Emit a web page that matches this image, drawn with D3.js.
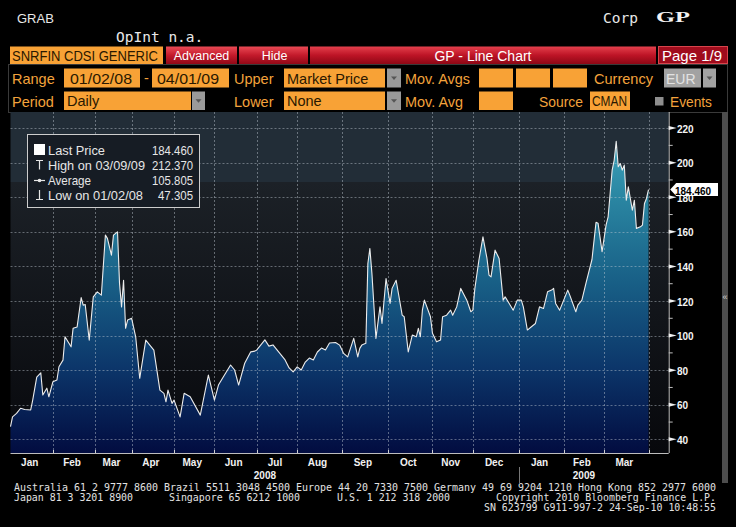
<!DOCTYPE html>
<html><head><meta charset="utf-8">
<script src="https://cdn.jsdelivr.net/npm/d3@7"></script>
<style>html,body{margin:0;padding:0;background:#000;}svg{display:block}</style>
</head><body>
<svg id="c" width="736" height="527"></svg>
<script>
// ---------------- DATA ----------------
const monthLabels = ["Jan","Feb","Mar","Apr","May","Jun","Jul","Aug","Sep","Oct","Nov","Dec","Jan","Feb","Mar"];
const monthDays   = [21,21,18,21,20,21,20,22,23,22,20,23,22,20,22]; // trading days per month shown
const yearLabels  = ["2008","2009"];
const yearStartMonth = [0,12];
const yTicks = [40,60,80,100,120,140,160,180,200,220];
const yMinorTicks = [50,70,90,110,130,150,170,190,210];

// trading-day index (0 = 01/02/08) and CDS price
const tradingDay = [0,1,3,5,7,10,11,13,15,16,18,19,21,23,24,26,27,30,31,33,35,36,37,39,41,43,45,47,48,50,51,53,54,55,56,57,58,60,62,64,67,69,71,74,76,77,78,80,81,84,86,89,94,98,101,103,105,109,111,113,116,119,
 121,122,124,126,128,130,132,134,136,138,140,142,144,146,148,150,152,154,156,158,161,
 163,165,167,170,172,173,174,176,177,178,179,181,183,184,186,188,189,191,194,195,197,199,201,202,203,204,205,208,209,211,213,214,216,218,219,221,223,226,228,229,230,232,234,236,237,238,240,242,244,245,247,249,251,253,254,256,258,260,262,264,266,268,269,270,272,274,276,277,280,281,283,285,288,290,291,293,295,296,298,299,300,301,302,303,304,305,306,308,309,310,312,313,314,315,316];
const price = [47.305,53,55,58,57.3,57,62.7,76,78.5,65.6,69.6,64.6,73.3,74.3,82,85.8,99.3,93.5,104.2,105,122,117.6,118,97.4,122.4,125.3,123.4,158.1,156.2,146.5,158.1,160,130.2,116.6,132,104.2,109,110,99.3,75.3,97.4,94.5,91.6,68.5,66.6,61.7,68.5,60.8,62.7,53,66.6,64.6,54,77.2,62.7,71.4,75.3,83,80.1,71.4,84,90.6,
 91,91.7,94.6,97.5,93.9,94.6,91.7,88.8,85.9,81.3,79,81.9,80.1,84.7,87,85.9,90.5,92.8,91.7,95.7,96,
 94.5,89.7,87.7,98.4,87.7,92.6,94.5,95.5,141.7,150.4,136,98.4,116.6,107,133,118.6,127.3,132,111.8,110.9,90.6,100.3,99.3,104.2,99.3,114.7,120.5,110.9,101.3,96.4,97.4,110.9,111.8,114.7,111.8,116.6,127.3,120.5,113.8,114.7,127.3,143.6,157.1,144.6,135,134,149.4,144.6,120.5,122.4,118.6,114.7,120.5,120.5,116.6,103.2,105.1,107,116.6,115.7,125.3,126.3,127.3,118.6,114.7,120.5,126.3,123.4,113.8,117.6,120.5,130.2,144,165.5,165,148.5,164,168.7,195.7,201.4,212.37,197.6,199.5,195.7,198.6,178.3,186,172.5,178.3,162,162.9,163.9,176.4,179.3,184.46];

const legendLabels = ["Last Price","High on 03/09/09","Average","Low on 01/02/08"];
const legendValues = ["184.460","212.370","105.805","47.305"];
const lastPrice = 184.460;

// ---------------- SETUP ----------------
const svg = d3.select("#c");
const FS = "'Liberation Sans', Arial, sans-serif";
const MONO = "'DejaVu Sans Mono', monospace";
const plot = {left:10.5, right:668.7, top:112, bottom:453};
const cum = d3.cumsum(monthDays);
const monthStart = [0, ...cum];
const totalDays = cum[cum.length-1];
const x = d3.scaleLinear().domain([0, totalDays + 10]).range([plot.left, plot.right]);
const y = d3.scaleLinear().domain([32.1, 229.3]).range([plot.bottom, plot.top]);
const data = tradingDay.map((d,i)=>({d, v:price[i]}));

const defs = svg.append("defs");
function vgrad(id, stops, y1, y2){
  const g = defs.append("linearGradient").attr("id",id).attr("x1",0).attr("x2",0);
  if (y1!==undefined){ g.attr("gradientUnits","userSpaceOnUse").attr("y1",y1).attr("y2",y2); }
  else { g.attr("y1",0).attr("y2",1); }
  stops.forEach(s=>g.append("stop").attr("offset",s[0]).attr("stop-color",s[1]));
}
vgrad("areaG",[[0,"#44aec4"],[0.25,"#2a86a2"],[0.5,"#185f86"],[0.75,"#0c366a"],[1,"#020c40"]], plot.top, plot.bottom);
vgrad("bgLow",[[0,"#1c2127"],[1,"#07080c"]]);
vgrad("redG",[[0,"#e4404c"],[0.5,"#bd1426"],[1,"#8e0715"]]);
vgrad("btnG",[[0,"#ea4a55"],[0.5,"#c31a2b"],[1,"#920817"]]);

function rect(x0,y0,w,h,fill,stroke){
  const r = svg.append("rect").attr("x",x0).attr("y",y0).attr("width",w).attr("height",h).attr("fill",fill);
  if (stroke) r.attr("stroke",stroke).attr("stroke-width",1);
  return r;
}
function text(x0,y0,s,o={}){
  const t = svg.append("text").attr("x",x0).attr("y",y0).text(s)
    .attr("font-family",o.family||FS).attr("font-size",o.size||14)
    .attr("fill",o.fill||"#fff").attr("font-weight",o.weight||"normal")
    .attr("text-anchor",o.anchor||"start");
  if (o.len){ t.attr("textLength",o.len).attr("lengthAdjust","spacingAndGlyphs"); }
  return t;
}
function dropdown(x0,y0,w,h,fill){
  rect(x0,y0,w,h,fill||"#9a9a9a");
  svg.append("path").attr("d",`M${x0+w/2-3},${y0+h/2-1.5}L${x0+w/2+3},${y0+h/2-1.5}L${x0+w/2},${y0+h/2+2}Z`).attr("fill","#555");
}

// ---------------- HEADER ----------------
const ORANGE = "#f8a236", OTEXT = "#f3a33c", DARK="#2a1800";
text(17,23.3,"GRAB",{size:13,fill:"#e8e8e8"});
text(116,41.5,"OpInt n.a.",{family:MONO,size:14.5,fill:"#e8e8e8"});
text(603,22.5,"Corp",{family:MONO,size:14.5,fill:"#e8e8e8"});
text(656,22,"GP",{family:"'Liberation Serif', serif",size:15,weight:"bold",fill:"#f2f2f2",len:34});

// red title row
rect(10,46.5,153,17.5,ORANGE);
text(12,60.5,"SNRFIN CDSI GENERIC",{size:14,fill:DARK,len:146});
rect(166,46.5,71,17.5,"url(#btnG)");
rect(239,46.5,69,17.5,"url(#btnG)");
rect(310,46.5,346,17.5,"url(#redG)");
text(201.5,59.5,"Advanced",{size:12.5,anchor:"middle",fill:"#fff"});
text(274.5,59.5,"Hide",{size:12.5,anchor:"middle",fill:"#fff"});
text(483,61,"GP - Line Chart",{size:14,anchor:"middle",fill:"#fff"});
rect(658.5,46.5,69,17,"#a00c1c","#d8444c");
text(692,61,"Page 1/9",{size:15,anchor:"middle",fill:"#fff"});

// control frame
svg.append("rect").attr("x",8.5).attr("y",64.5).attr("width",719).attr("height",48).attr("fill","none").attr("stroke","#3a3a3a");

// row 2
text(12,84,"Range",{size:14.5,fill:OTEXT});
rect(64,68.5,76,19,ORANGE); text(70,83.5,"01/02/08",{size:14.5,fill:DARK,len:62});
text(144,83,"-",{size:14.5,fill:OTEXT});
rect(152,68.5,77,19,ORANGE); text(157,83.5,"04/01/09",{size:14.5,fill:DARK,len:62});
text(234,84,"Upper",{size:14.5,fill:OTEXT});
rect(284,68.5,101,19,ORANGE); text(287,83.5,"Market Price",{size:14.5,fill:DARK});
dropdown(387,68.5,14,19);
text(405,84,"Mov. Avgs",{size:14.5,fill:OTEXT,len:65});
rect(479,68.5,34,19,ORANGE); rect(516,68.5,34,19,ORANGE); rect(553,68.5,34,19,ORANGE);
text(594,84,"Currency",{size:14.5,fill:OTEXT,len:59});
rect(664,68.5,37,19,"#a2a2a2"); text(666,83.5,"EUR",{size:14,fill:"#e2e2e2"});
dropdown(703,68.5,13,19,"#a2a2a2");

// row 3
text(12,106.5,"Period",{size:14.5,fill:OTEXT});
rect(64,91.5,127,18.5,ORANGE); text(67,106,"Daily",{size:14.5,fill:DARK});
dropdown(192,91.5,13,18.5);
text(234,106.5,"Lower",{size:14.5,fill:OTEXT});
rect(284,91.5,101,18.5,ORANGE); text(287,106,"None",{size:14.5,fill:DARK});
dropdown(387,91.5,14,18.5);
text(405,106.5,"Mov. Avg",{size:14.5,fill:OTEXT,len:58});
rect(479,91.5,34,18.5,ORANGE);
text(539,106.5,"Source",{size:14.5,fill:OTEXT,len:44});
rect(590,91.5,40,18.5,ORANGE); text(592,106,"CMAN",{size:14.5,fill:DARK,len:35});
rect(655,97,8.5,8.5,"#8e8e8e");
text(670,106.5,"Events",{size:14.5,fill:OTEXT,len:42});

// ---------------- PLOT BACKGROUND ----------------
rect(plot.left, plot.top, plot.right-plot.left, 70, "#222d37");
rect(plot.left, plot.top+70, plot.right-plot.left, plot.bottom-plot.top-70, "url(#bgLow)");

// area + line
const area = d3.area().x(d=>x(d.d)).y0(plot.bottom).y1(d=>y(d.v));
const line = d3.line().x(d=>x(d.d)).y(d=>y(d.v));
svg.append("path").datum(data).attr("d",area).attr("fill","url(#areaG)");

// grid lines
const grid = svg.append("g").attr("stroke","#c4ccd4").attr("stroke-opacity",0.45).attr("stroke-dasharray","2,2").attr("stroke-width",1);
yTicks.forEach(v=>grid.append("line").attr("x1",plot.left).attr("x2",plot.right).attr("y1",Math.round(y(v))+0.5).attr("y2",Math.round(y(v))+0.5));
monthStart.slice(1).forEach(d=>grid.append("line").attr("x1",Math.round(x(d))+0.5).attr("x2",Math.round(x(d))+0.5).attr("y1",plot.top).attr("y2",plot.bottom));

svg.append("path").datum(data).attr("d",line).attr("fill","none").attr("stroke","#ececec").attr("stroke-width",1.1).attr("stroke-linejoin","round");

// ---------------- LEGEND ----------------
rect(27.5,134.5,172,73,"#161c24","#cdcdcd");
const lg = [154.5,169.5,185,200];
const lgLen = [57,97,43,95];
const lvLen = [41,41,41,35];
rect(34,144,11,11,"#fff");
const sym = svg.append("g").attr("stroke","#e6e6e6").attr("stroke-width",1.2).attr("fill","none");
sym.append("path").attr("d","M36,160.5H43M39.5,160.5V169.5");
sym.append("path").attr("d","M34,180.5H45");
svg.append("circle").attr("cx",39.5).attr("cy",180.5).attr("r",1.8).attr("fill","#e6e6e6");
sym.append("path").attr("d","M39.5,190V199M36,199.5H43");
legendLabels.forEach((s,i)=>{
  text(48,lg[i],s,{size:13,fill:"#e6e6e6",len:lgLen[i]});
  text(193-lvLen[i],lg[i],legendValues[i],{size:13,fill:"#e6e6e6",len:lvLen[i]});
});

// ---------------- RIGHT AXIS ----------------
svg.append("line").attr("x1",plot.right+0.5).attr("x2",plot.right+0.5).attr("y1",plot.top).attr("y2",plot.bottom).attr("stroke","#bdbdbd");
yTicks.forEach(v=>{
  const ty = y(v);
  svg.append("path").attr("d",`M${plot.right},${ty-2}L${plot.right+8},${ty}L${plot.right},${ty+2}Z`).attr("fill","#f0f0f0");
  text(677,ty+4.5,String(v),{size:10,weight:"bold",fill:"#f4f4f4"});
});
yMinorTicks.forEach(v=>{
  svg.append("line").attr("x1",plot.right).attr("x2",plot.right+4).attr("y1",y(v)).attr("y2",y(v)).attr("stroke","#bdbdbd");
});
// last price marker
const ly = y(lastPrice);
svg.append("path").attr("d",`M${plot.right+1.5},${ly}L${plot.right+7.5},${ly-6.5}H718V${ly+6.5}H${plot.right+7.5}Z`).attr("fill","#fff");
text(675,ly+5,lastPrice.toFixed(3),{size:10,weight:"bold",fill:"#000"});

// scroll bar
rect(722,112,6,371,"#4d4d4d");
text(725,300,"«",{size:9,fill:"#cfcfcf",anchor:"middle"});

// ---------------- X AXIS ----------------
svg.append("line").attr("x1",plot.left).attr("x2",plot.right).attr("y1",plot.bottom+0.5).attr("y2",plot.bottom+0.5).attr("stroke","#bdbdbd");
monthStart.slice(1).forEach(d=>{
  svg.append("line").attr("x1",Math.round(x(d))+0.5).attr("x2",Math.round(x(d))+0.5).attr("y1",plot.bottom-3).attr("y2",plot.bottom).attr("stroke","#cfcfcf");
});
monthLabels.forEach((m,i)=>{
  const cx = x((monthStart[i]+monthStart[i+1])/2) - 2;
  text(cx,466,m,{size:10,weight:"bold",anchor:"middle",fill:"#f2f2f2"});
});
yearLabels.forEach((yr,i)=>{
  const s = monthStart[yearStartMonth[i]];
  const e = i+1<yearLabels.length ? monthStart[yearStartMonth[i+1]] : totalDays;
  text(x((s+e)/2),478.5,yr,{size:10,weight:"bold",anchor:"middle",fill:"#f2f2f2"});
  if (i>0) svg.append("line").attr("x1",Math.round(x(s))+0.5).attr("x2",Math.round(x(s))+0.5).attr("y1",467).attr("y2",483).attr("stroke","#777");
});

// ---------------- FOOTER ----------------
const FC = "#e2e2e2";
text(14,490.5,"Australia 61 2 9777 8600 Brazil 5511 3048 4500 Europe 44 20 7330 7500 Germany 49 69 9204 1210 Hong Kong 852 2977 6000",{family:MONO,size:9.9,fill:FC,len:702});
text(14,500.5,"Japan 81 3 3201 8900",{family:MONO,size:9.9,fill:FC,len:119});
text(169,500.5,"Singapore 65 6212 1000",{family:MONO,size:9.9,fill:FC,len:131});
text(337,500.5,"U.S. 1 212 318 2000",{family:MONO,size:9.9,fill:FC,len:113});
text(716,500.5,"Copyright 2010 Bloomberg Finance L.P.",{family:MONO,size:9.9,fill:FC,anchor:"end",len:220});
text(716,510.5,"SN 623799 G911-997-2 24-Sep-10 10:48:55",{family:MONO,size:9.9,fill:FC,anchor:"end",len:232});
</script>
</body></html>
